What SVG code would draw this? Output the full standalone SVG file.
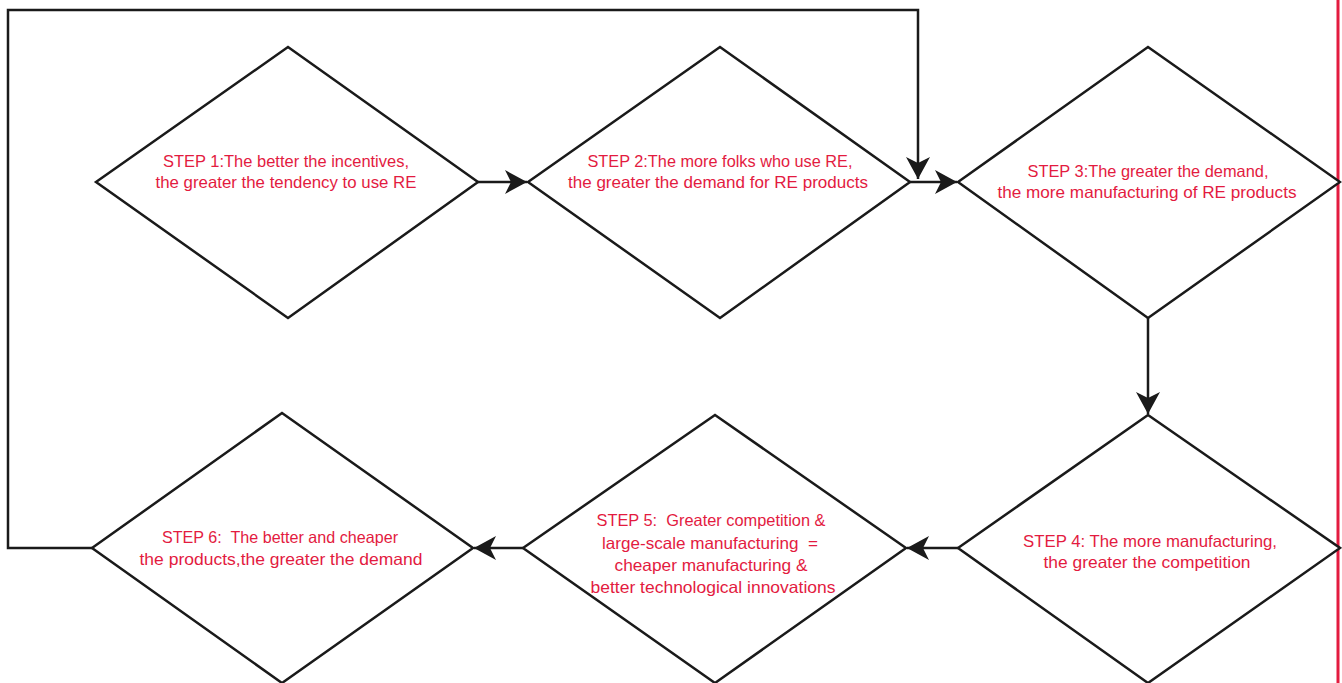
<svg xmlns="http://www.w3.org/2000/svg" width="1342" height="683" viewBox="0 0 1342 683">
<defs>
<style>
.d{fill:#fff;stroke:#1a1a1a;stroke-width:2.5;stroke-linejoin:miter}
.c{fill:none;stroke:#1a1a1a;stroke-width:2.5}
.t{font-family:"Liberation Sans",Arial,sans-serif;font-size:16.5px;fill:#e31b3f;text-anchor:middle}
</style>
<marker id="ah" markerUnits="userSpaceOnUse" markerWidth="24" markerHeight="26" refX="22" refY="12" orient="auto" overflow="visible">
<path d="M0,0 L22,12 L0,24 L6,12 Z" fill="#1a1a1a"/>
</marker>
</defs>
<rect width="1342" height="683" fill="#fff"/>
<line x1="1338" y1="0" x2="1338" y2="683" stroke="#e31b3f" stroke-width="3"/>
<g id="step1">
<polygon class="d" points="96,182 288,47 478,182 288,318"/>
<text class="t" x="286" y="167" textLength="246" lengthAdjust="spacingAndGlyphs">STEP 1:The better the incentives,</text>
<text class="t" x="286" y="188" textLength="261" lengthAdjust="spacingAndGlyphs">the greater the tendency to use RE</text>
</g>
<g id="step2">
<polygon class="d" points="528,182 720,47 910,182 720,318"/>
<text class="t" x="720" y="167" textLength="265" lengthAdjust="spacingAndGlyphs">STEP 2:The more folks who use RE,</text>
<text class="t" x="718" y="188" textLength="300" lengthAdjust="spacingAndGlyphs">the greater the demand for RE products</text>
</g>
<g id="step3">
<polygon class="d" points="958,182 1148,47 1340,182 1148,318"/>
<text class="t" x="1148" y="177" textLength="241" lengthAdjust="spacingAndGlyphs">STEP 3:The greater the demand,</text>
<text class="t" x="1147" y="198" textLength="299" lengthAdjust="spacingAndGlyphs">the more manufacturing of RE products</text>
</g>
<g id="step4">
<polygon class="d" points="958,548 1148,415 1340,548 1148,683"/>
<text class="t" x="1150" y="547" textLength="254" lengthAdjust="spacingAndGlyphs">STEP 4: The more manufacturing,</text>
<text class="t" x="1147" y="568" textLength="207" lengthAdjust="spacingAndGlyphs">the greater the competition</text>
</g>
<g id="step5">
<polygon class="d" points="523,548 715,415 906,548 715,683"/>
<text class="t" x="711" y="526" textLength="229" lengthAdjust="spacingAndGlyphs" xml:space="preserve">STEP 5:  Greater competition &amp;</text>
<text class="t" x="710" y="549" textLength="216" lengthAdjust="spacingAndGlyphs" xml:space="preserve">large-scale manufacturing  =</text>
<text class="t" x="711" y="571" textLength="193" lengthAdjust="spacingAndGlyphs">cheaper manufacturing &amp;</text>
<text class="t" x="713" y="593" textLength="245" lengthAdjust="spacingAndGlyphs">better technological innovations</text>
</g>
<g id="step6">
<polygon class="d" points="92,548 282,413 473,548 282,683"/>
<text class="t" x="280" y="543" textLength="236" lengthAdjust="spacingAndGlyphs" xml:space="preserve">STEP 6:  The better and cheaper</text>
<text class="t" x="281" y="565" textLength="283" lengthAdjust="spacingAndGlyphs">the products,the greater the demand</text>
</g>
<g id="connectors">
<line class="c" x1="478" y1="182" x2="527" y2="182" marker-end="url(#ah)"/>
<line class="c" x1="910" y1="182" x2="957" y2="182" marker-end="url(#ah)"/>
<line class="c" x1="1148" y1="318" x2="1148" y2="414" marker-end="url(#ah)"/>
<line class="c" x1="958" y1="548" x2="907" y2="548" marker-end="url(#ah)"/>
<line class="c" x1="523" y1="548" x2="474" y2="548" marker-end="url(#ah)"/>
<polyline class="c" points="92,548 8,548 8,10 918,10 918,179" marker-end="url(#ah)"/>
</g>
</svg>
